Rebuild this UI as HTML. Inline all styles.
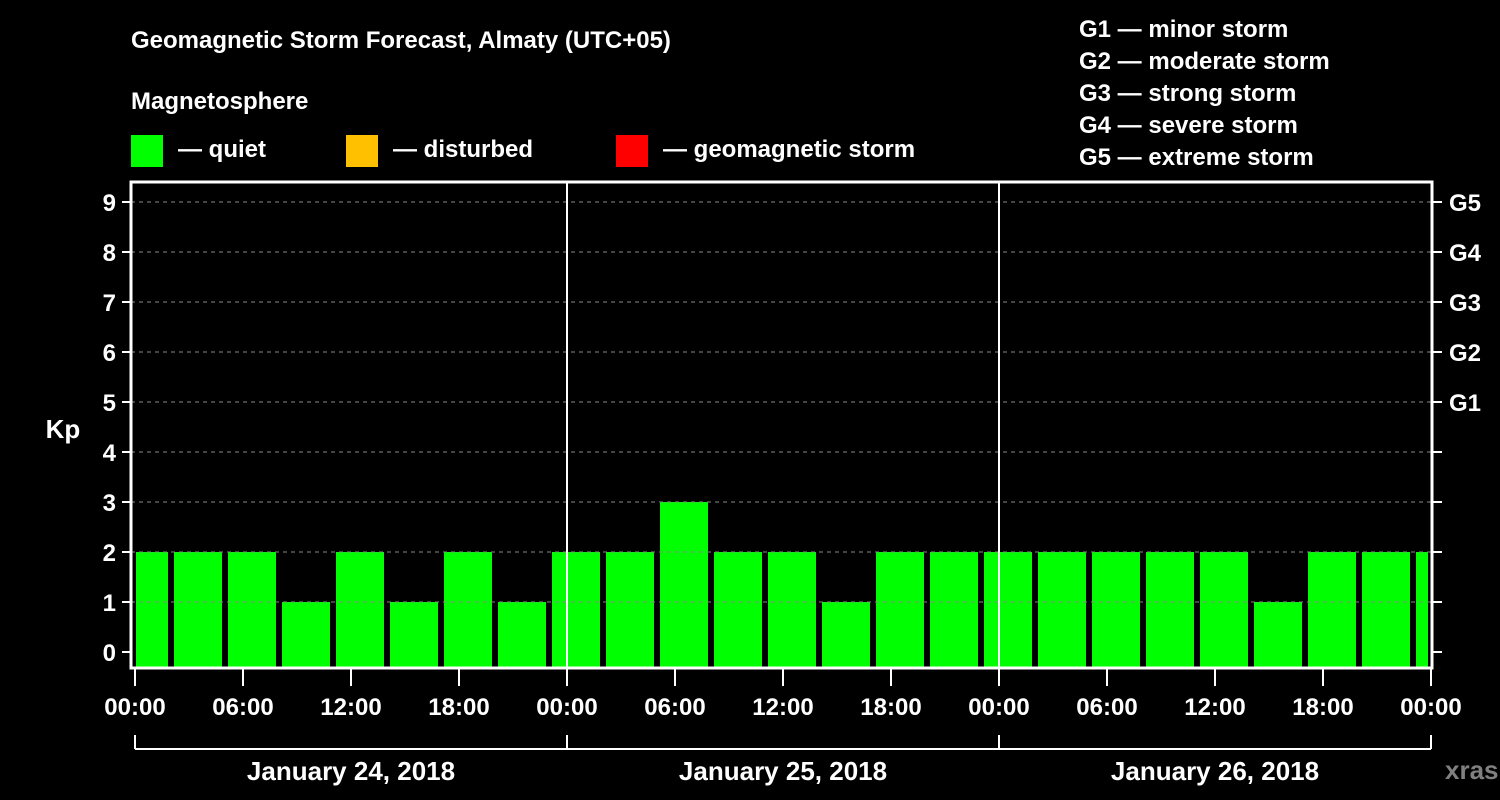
<!DOCTYPE html>
<html><head><meta charset="utf-8"><style>
body{margin:0;background:#000;}
svg{display:block;font-family:"Liberation Sans",sans-serif;font-weight:bold;}
</style></head><body>
<svg width="1500" height="800" viewBox="0 0 1500 800">
<rect width="1500" height="800" fill="#000"/>
<text x="131" y="48" fill="#fff" font-size="24">Geomagnetic Storm Forecast, Almaty (UTC+05)</text>
<text x="131" y="109" fill="#fff" font-size="24">Magnetosphere</text>
<g><rect x="131" y="135" width="32" height="32" fill="#00ff00"/><text x="178" y="157" fill="#fff" font-size="24">— quiet</text></g>
<g><rect x="346" y="135" width="32" height="32" fill="#ffc000"/><text x="393" y="157" fill="#fff" font-size="24">— disturbed</text></g>
<g><rect x="616" y="135" width="32" height="32" fill="#ff0000"/><text x="663" y="157" fill="#fff" font-size="24">— geomagnetic storm</text></g>
<g fill="#fff" font-size="24">
<text x="1079" y="37">G1 — minor storm</text>
<text x="1079" y="69">G2 — moderate storm</text>
<text x="1079" y="101">G3 — strong storm</text>
<text x="1079" y="133">G4 — severe storm</text>
<text x="1079" y="165">G5 — extreme storm</text>
</g>
<text x="63" y="438" fill="#fff" font-size="26" text-anchor="middle">Kp</text>
<g id="bars"></g>
<g id="axes"></g>
<text x="1445" y="779" fill="#808080" font-size="26">xras.ru</text>
</svg>
<script>
const kpValues=[2,2,2,1,2,1,2,1,2,2,3,2,2,1,2,2,2,2,2,2,2,1,2,2,2];
const yTicks=[0,1,2,3,4,5,6,7,8,9];
const gLabels=["G1","G2","G3","G4","G5"];
const timeLabels=["00:00","06:00","12:00","18:00","00:00","06:00","12:00","18:00","00:00","06:00","12:00","18:00","00:00"];
const dayLabels=["January 24, 2018","January 25, 2018","January 26, 2018"];
const NS="http://www.w3.org/2000/svg";
const L=131,R=1432,T=182,B=668,X0=135,PXH=18;
const y=v=>652-v*50;
const xh=h=>X0+h*PXH;
function mk(t,a,p){const e=document.createElementNS(NS,t);for(const k in a)e.setAttribute(k,a[k]);p.appendChild(e);return e;}
const bars=document.getElementById('bars'),ax=document.getElementById('axes');
function col(v){return v>=5?"#ff0000":v>=4?"#ffc000":"#00ff00";}
kpValues.forEach((v,i)=>{
  let x1=xh(-1+3*i)+3,x2=xh(2+3*i)-3;
  x1=Math.max(x1,L+5);x2=Math.min(x2,R-4);
  const r=mk('rect',{x:x1,y:y(v),width:x2-x1,height:B-y(v),fill:col(v)},bars);
  
  
});
yTicks.forEach(v=>{
  if(v>0){const g=mk('line',{x1:L,x2:R,y1:y(v),y2:y(v),stroke:'#888','stroke-dasharray':'4 4'},ax);
  
  }
  mk('line',{x1:122,x2:L,y1:y(v),y2:y(v),stroke:'#fff','stroke-width':2},ax);
  mk('line',{x1:R,x2:1442,y1:y(v),y2:y(v),stroke:'#fff','stroke-width':2},ax);
  const t=mk('text',{x:116,y:y(v)+9,fill:'#fff','font-size':24,'text-anchor':'end'},ax);t.textContent=v;
  
  
  if(v>=5){const g=mk('text',{x:1449,y:y(v)+9,fill:'#fff','font-size':24},ax);g.textContent=gLabels[v-5];
  
  }
});
[1,2].forEach(d=>{const l=mk('line',{x1:xh(24*d),x2:xh(24*d),y1:T,y2:B,stroke:'#fff','stroke-width':2},ax);
  
  });
const f=mk('rect',{x:L,y:T,width:R-L,height:B-T,fill:'none',stroke:'#fff','stroke-width':3},ax);


timeLabels.forEach((s,i)=>{const x=xh(6*i);
  mk('line',{x1:x,x2:x,y1:B,y2:686,stroke:'#fff','stroke-width':2},ax);
  const t=mk('text',{x:x,y:715,fill:'#fff','font-size':24,'text-anchor':'middle'},ax);t.textContent=s;
  
  });
mk('line',{x1:xh(0),x2:xh(72),y1:749,y2:749,stroke:'#fff','stroke-width':2},ax);
[0,1,2,3].forEach(d=>mk('line',{x1:xh(24*d),x2:xh(24*d),y1:735,y2:749,stroke:'#fff','stroke-width':2},ax));
dayLabels.forEach((s,d)=>{const t=mk('text',{x:xh(24*d+12),y:780,fill:'#fff','font-size':26,'text-anchor':'middle'},ax);t.textContent=s;
  
  });
</script>
</body></html>
